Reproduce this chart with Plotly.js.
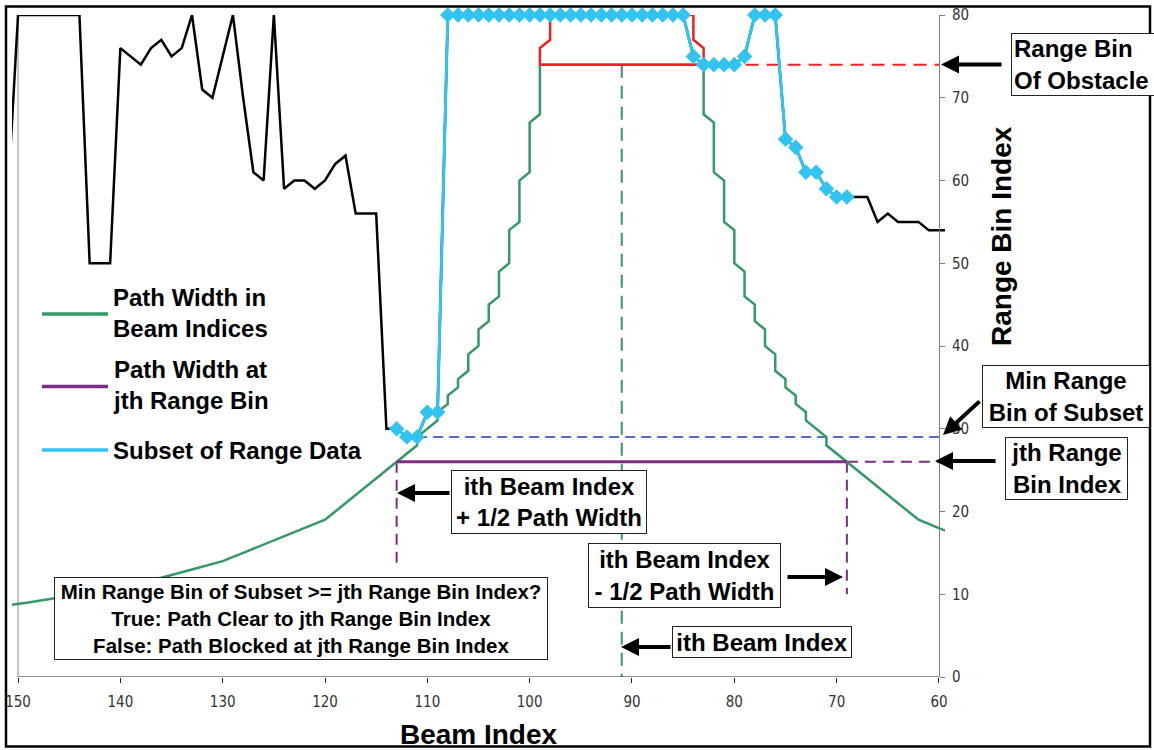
<!DOCTYPE html>
<html><head><meta charset="utf-8">
<script src="https://cdn.plot.ly/plotly-3.0.1.min.js"></script>
<style>html,body{margin:0;padding:0;background:#fff}#chart{width:1154px;height:750px}</style>
</head><body><div id="chart"></div>
<script>
// ---- data ----
const rangeBeam = [151,150,149,148,147,146,145,144,143,142,141,140,139,138,137,136,135,134,133,132,131,130,129,128,127,126,125,124,123,122,121,120,119,118,117,116,115,114,113,112,111,110,109,108,107,106,105,104,103,102,101,100,99,98,97,96,95,94,93,92,91,90,89,88,87,86,85,84,83,82,81,80,79,78,77,76,75,74,73,72,71,70,69,68,67,66,65,64,63,62,61,60,59];
const rangeBin = [58,80,80,80,80,80,80,80,50,50,50,76,75,74,76,77,75,76,80,71,70,75,80,70,61,60,80,59,60,60,59,60,62,63,56,56,56,30,30,29,29,32,32,
  80,80,80,80,80,80,80,80,80,80,80,80,80,80,80,80,80,80,80,80,80,80,80,80,
  75,74,74,74,74,75,80,80,80,65,64,61,61,59,58,58,58,58,55,56,55,55,55,54,54,54];

const subsetBeam = [113,112,111,110,109,108,107,106,105,104,103,102,101,100,99,98,97,96,95,94,93,92,91,90,89,88,87,86,85,84,83,82,81,80,79,78,77,76,75,74,73,72,71,70,69];
const subsetBin = [30,29,29,32,32,
  80,80,80,80,80,80,80,80,80,80,80,80,80,80,80,80,80,80,80,80,80,80,80,80,
  75,74,74,74,74,75,80,80,80,65,64,61,61,59,58,58];

const pathLeftBin  = [8,9,10,11,12,13,14,15,16,17,18,19,20,21,22,23,24,25,26,27,28,29,30,31,32,33,34,35,36,37,38,39,40,41,42,43,44,45,46,47,48,49,50,51,52,53,54,55,56,57,58,59,60,61,62,63,64,65,66,67,68,69,70,71,72,73,74];
const pathLeftBeam = [155,149,144,140,136,133,130,128,126,124,122,120,119,118,117,116,115,114,113,112,111,111,110,109,109,108,108,107,107,106,106,106,105,105,105,104,104,104,103,103,103,103,102,102,102,102,102,101,101,101,101,101,101,100,100,100,100,100,100,100,99,99,99,99,99,99,99];
const pathRightBin  = [74,73,72,71,70,69,68,67,66,65,64,63,62,61,60,59,58,57,56,55,54,53,52,51,50,49,48,47,46,45,44,43,42,41,40,39,38,37,36,35,34,33,32,31,30,29,28,27,26,25,24,23,22,21,20,19,18,17];
const pathRightBeam = [83,83,83,83,83,83,83,82,82,82,82,82,82,82,81,81,81,81,81,81,80,80,80,80,80,79,79,79,79,78,78,78,77,77,77,76,76,76,75,75,74,74,73,73,72,71,71,70,69,68,67,66,65,64,63,62,60,58];

const obstacleBeam = [99,99,99,98,98,98,98,84,84,84,84,83,83,83,99];
const obstacleBin  = [74,75,76,77,78,79,80,80,79,78,77,76,75,74,74];

const ithBeam = 91;
const obstacleRangeBin = 74;
const minSubsetBin = 29;
const minSubsetBeam = 111;
const jthRangeBin = 26;
const plusHalfBeam = 113;
const minusHalfBeam = 69;
const axisEndBeam = 60;
const plusHalfDropTo = 13;
const minusHalfDropTo = 10;

const xTickVals = [150,140,130,120,110,100,90,80,70,60];
const yTickVals = [0,10,20,30,40,50,60,70,80];

// ---- styling / geometry ----
const BOLD = 'Liberation Sans, Arial, sans-serif';
const NARROW = "'Liberation Sans Narrow', 'Arial Narrow', 'DejaVu Sans Condensed', sans-serif";
const L = 12, T = 15, PW = 933, PH = 662;
const PX = x => (x - L) / PW;
const PY = y => (T + PH - y) / PH;

const GREEN = '#339966', CYAN = '#33C3F0', RED = '#EE2222', PURPLE = '#7B2C83', BLUE = '#4F72C8';

function line(x, y, color, width, dash) {
  return {type:'scatter', mode:'lines', x:x, y:y, showlegend:false, hoverinfo:'skip',
          line:{color:color, width:width, dash:dash || 'solid'}};
}

const traces = [
  Object.assign(line(rangeBeam, rangeBin, '#000', 2.5), {name:'Range Data'}),
  line([ithBeam, ithBeam], [obstacleRangeBin, 0], GREEN, 2, '13px,8px'),
  line([minSubsetBeam, axisEndBeam], [minSubsetBin, minSubsetBin], BLUE, 2, '10px,6px'),
  line([83, axisEndBeam], [obstacleRangeBin, obstacleRangeBin], RED, 2, '13px,8px'),
  line([minusHalfBeam, axisEndBeam], [jthRangeBin, jthRangeBin], PURPLE, 2, '11px,7px'),
  line([plusHalfBeam, plusHalfBeam], [jthRangeBin, plusHalfDropTo], PURPLE, 2, '11px,7px'),
  line([minusHalfBeam, minusHalfBeam], [jthRangeBin, minusHalfDropTo], PURPLE, 2, '11px,7px'),
  Object.assign(line(pathLeftBeam.concat(pathRightBeam), pathLeftBin.concat(pathRightBin), GREEN, 2.5), {name:'Path Width in Beam Indices'}),
  Object.assign(line(obstacleBeam, obstacleBin, RED, 2.5), {name:'Obstacle'}),
  Object.assign(line([plusHalfBeam, minusHalfBeam], [jthRangeBin, jthRangeBin], PURPLE, 3), {name:'Path Width at jth Range Bin'}),
  {type:'scatter', mode:'lines+markers', name:'Subset of Range Data', x:subsetBeam, y:subsetBin,
   showlegend:false, cliponaxis:false, hoverinfo:'skip',
   line:{color:CYAN, width:3}, marker:{symbol:'diamond', size:12, color:CYAN}}
];

function box(text, l, t, r, b, size, align) {
  const pad = 2, bw = 1;
  return {xref:'paper', yref:'paper', x:PX(l), y:PY(t), xanchor:'left', yanchor:'top',
    text:text, showarrow:false, width:r-l-2*(pad+bw), height:b-t-2*(pad+bw),
    bgcolor:'#fff', bordercolor:'#222', borderwidth:bw, borderpad:pad, align:align || 'center',
    font:{family:BOLD, size:size, color:'#000', weight:'bold'}};
}
function arrow(tx, ty, sx, sy) {
  return {xref:'paper', yref:'paper', x:PX(tx), y:PY(ty), axref:'pixel', ayref:'pixel',
    ax:sx - tx, ay:sy - ty, text:'', showarrow:true, arrowhead:2, arrowsize:0.9,
    arrowwidth:4, arrowcolor:'#000', standoff:0};
}
function legendText(text, y) {
  return {xref:'paper', yref:'paper', x:PX(111), y:PY(y), xanchor:'left', yanchor:'middle',
    text:text, showarrow:false, align:'left', font:{family:BOLD, size:24, color:'#000', weight:'bold'}};
}
function legendLine(y, color) {
  return {type:'line', xref:'paper', yref:'paper', x0:PX(42), x1:PX(108), y0:PY(y), y1:PY(y),
    line:{color:color, width:3.5}};
}

const annotations = [
  box('Range Bin<br>Of Obstacle', 1011, 33, 1166, 96, 24, 'left'),
  box('Min Range<br>Bin of Subset', 982, 365, 1150, 428, 24),
  box('jth Range<br>Bin Index', 1005, 437, 1128, 500, 24),
  box('ith Beam Index<br>+ 1/2 Path Width', 451, 470, 647, 534, 24),
  box('ith Beam Index<br>- 1/2 Path Width', 588, 543, 781, 608, 24),
  box('ith Beam Index', 672, 626, 852, 658, 24),
  box('Min Range Bin of Subset >= jth Range Bin Index?<br>True: Path Clear to jth Range Bin Index<br>False: Path Blocked at jth Range Bin Index', 54, 577, 548, 660, 20.5),
  arrow(941, 64.5, 1003, 64.5),
  arrow(943, 435, 981, 400),
  arrow(935, 461, 997, 461),
  arrow(397, 493, 451, 493),
  arrow(843, 577, 786, 577),
  arrow(621, 647, 672, 647),
  legendText('Path Width in<br>Beam Indices', 312.5),
  legendText('Path Width at<br>jth Range Bin', 385.5),
  legendText('Subset of Range Data', 450),
  {xref:'paper', yref:'paper', x:PX(1001), y:PY(236), xanchor:'center', yanchor:'middle',
   text:'Range Bin Index', textangle:-90, showarrow:false,
   font:{family:BOLD, size:28, color:'#000', weight:'bold'}}
];

const shapes = [
  {type:'line', xref:'x', yref:'y', x0:150, x1:150, y0:0, y1:80, layer:'below', line:{color:'#8a8a8a', width:1}},
  {type:'line', xref:'x', yref:'y', x0:150, x1:60, y0:0, y1:0, line:{color:'#222', width:1.2}},
  legendLine(314, GREEN), legendLine(386.5, PURPLE), legendLine(450, CYAN),
  {type:'rect', xref:'paper', yref:'paper', x0:PX(6), x1:PX(1150), y0:PY(746.5), y1:PY(6.5),
   line:{color:'#000', width:2.5}, fillcolor:'rgba(0,0,0,0)'}
];

const layout = {
  width:1154, height:750,
  margin:{l:L, r:1154 - L - PW, t:T, b:750 - T - PH, pad:0},
  paper_bgcolor:'#fff', plot_bgcolor:'#fff',
  showlegend:false,
  xaxis:{range:[150.59, 59.41], tickmode:'array', tickvals:xTickVals, showgrid:false, zeroline:false,
    showline:false, ticks:'outside', ticklen:5, tickcolor:'#222', tickwidth:1, ticklabelstandoff:6,
    tickfont:{family:NARROW, size:15, color:'#333'},
    title:{text:'Beam Index', standoff:18, font:{family:BOLD, size:28, color:'#000', weight:'bold'}}},
  yaxis:{range:[0, 80], tickmode:'array', tickvals:yTickVals, showgrid:false, zeroline:false,
    anchor:'free', position:PX(939), side:'right', showline:true, linecolor:'#7f7f7f', linewidth:1,
    ticks:'outside', ticklen:5, tickcolor:'#7f7f7f', ticklabelstandoff:4,
    tickfont:{family:NARROW, size:15, color:'#333'}},
  annotations:annotations,
  shapes:shapes
};

Plotly.newPlot('chart', traces, layout, {displayModeBar:false, staticPlot:true});
</script>
</body></html>
